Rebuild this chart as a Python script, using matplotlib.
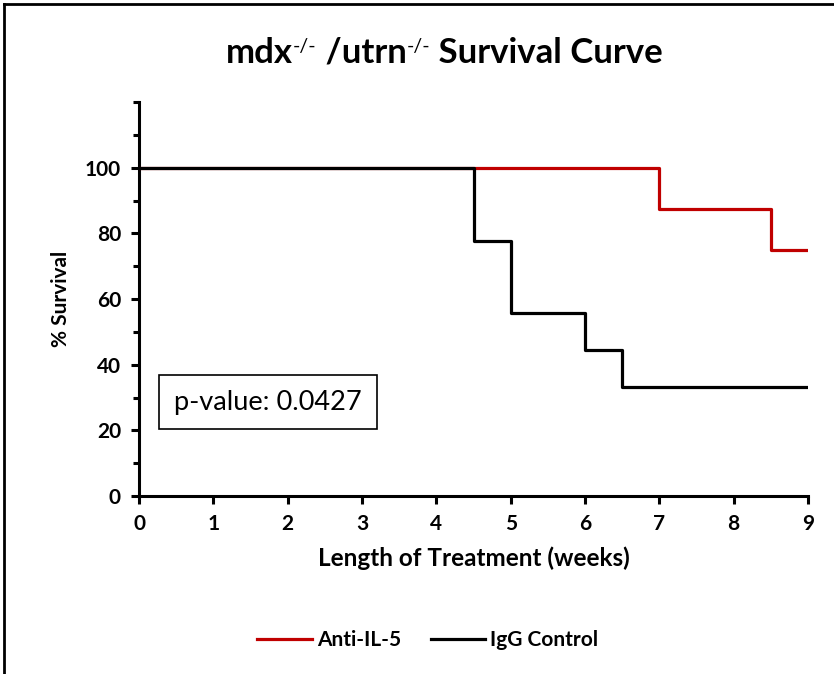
import numpy as np
import matplotlib
matplotlib.use('Agg')
import matplotlib.pyplot as plt
from matplotlib.ticker import MultipleLocator

plt.rcParams['font.family'] = ['Lato', 'DejaVu Sans']

# step survival data (weeks, % survival)
anti_weeks = [0, 7, 8.5, 9]
anti_surv = [100, 87.5, 75, 75]
igg_weeks = [0, 4.5, 5, 6, 6.5, 9]
igg_surv = [100, 77.8, 55.6, 44.4, 33.3, 33.3]

W, H = 834, 674
fig = plt.figure(figsize=(W/100, H/100), dpi=100)
ax = fig.add_axes([139/W, 1-496/H, (808-139)/W, (496-102)/H])

ax.step(anti_weeks, anti_surv, where='post', color='#C00000', lw=2.3,
        label='Anti-IL-5', zorder=3)
ax.step(igg_weeks, igg_surv, where='post', color='black', lw=2.3,
        label='IgG Control', zorder=4)

ax.set_xlim(0, 9)
ax.set_ylim(0, 120)
ax.set_xticks(np.arange(0, 10))
ax.set_yticks(np.arange(0, 101, 20))
ax.yaxis.set_minor_locator(MultipleLocator(10))
ax.tick_params(axis='both', which='major', direction='out', length=6, width=2.2,
               labelsize=15, pad=7)
ax.tick_params(axis='y', which='minor', direction='out', length=4, width=2.2)
for lab in ax.get_xticklabels() + ax.get_yticklabels():
    lab.set_fontweight('bold')

for s in ['top', 'right']:
    ax.spines[s].set_visible(False)
for s in ['left', 'bottom']:
    ax.spines[s].set_linewidth(2.2)

ax.set_xlabel('Length of Treatment (weeks)', fontsize=17.5, fontweight='bold', labelpad=9)
ax.set_ylabel('% Survival', fontsize=15, fontweight='bold', labelpad=10)

# title with superscripts, built from pieces, right end at x=663 px
pieces = [('mdx', 25, 'bold', 0), ('-/-', 14, 'normal', 11), (' /utrn', 25, 'bold', 0),
          ('-/-', 14, 'normal', 11), (' Survival Curve', 25, 'bold', 0)]
renderer = fig.canvas.get_renderer()
widths = []
for s, size, wt, dy in pieces:
    t = fig.text(0, 0, s, fontsize=size, fontweight=wt)
    widths.append(t.get_window_extent(renderer).width)
    t.remove()
x = 663 - sum(widths)
base = H - 63
for (s, size, wt, dy), w in zip(pieces, widths):
    fig.text(x / W, (base + dy) / H, s, fontsize=size, fontweight=wt, va='baseline')
    x += w

ax.text(1.736, 28.6, 'p-value: 0.0427', fontsize=19.5, ha='center', va='center',
        bbox=dict(boxstyle='square,pad=0.55', fc='white', ec='black', lw=1.2))

fig.legend(loc='center', bbox_to_anchor=(428/W, 1-640/H), ncol=2, frameon=False,
           prop={'weight': 'bold', 'size': 15}, handlelength=2.6, columnspacing=1.45,
           handletextpad=0.25)

# cropped outer frame (top and left edges only)
fig.add_artist(plt.Line2D([4/W, 4/W], [0, 1-4/H], color='black', lw=2,
                          transform=fig.transFigure))
fig.add_artist(plt.Line2D([4/W, 1], [1-4/H, 1-4/H], color='black', lw=2,
                          transform=fig.transFigure))

fig.savefig('out.png', dpi=100)
